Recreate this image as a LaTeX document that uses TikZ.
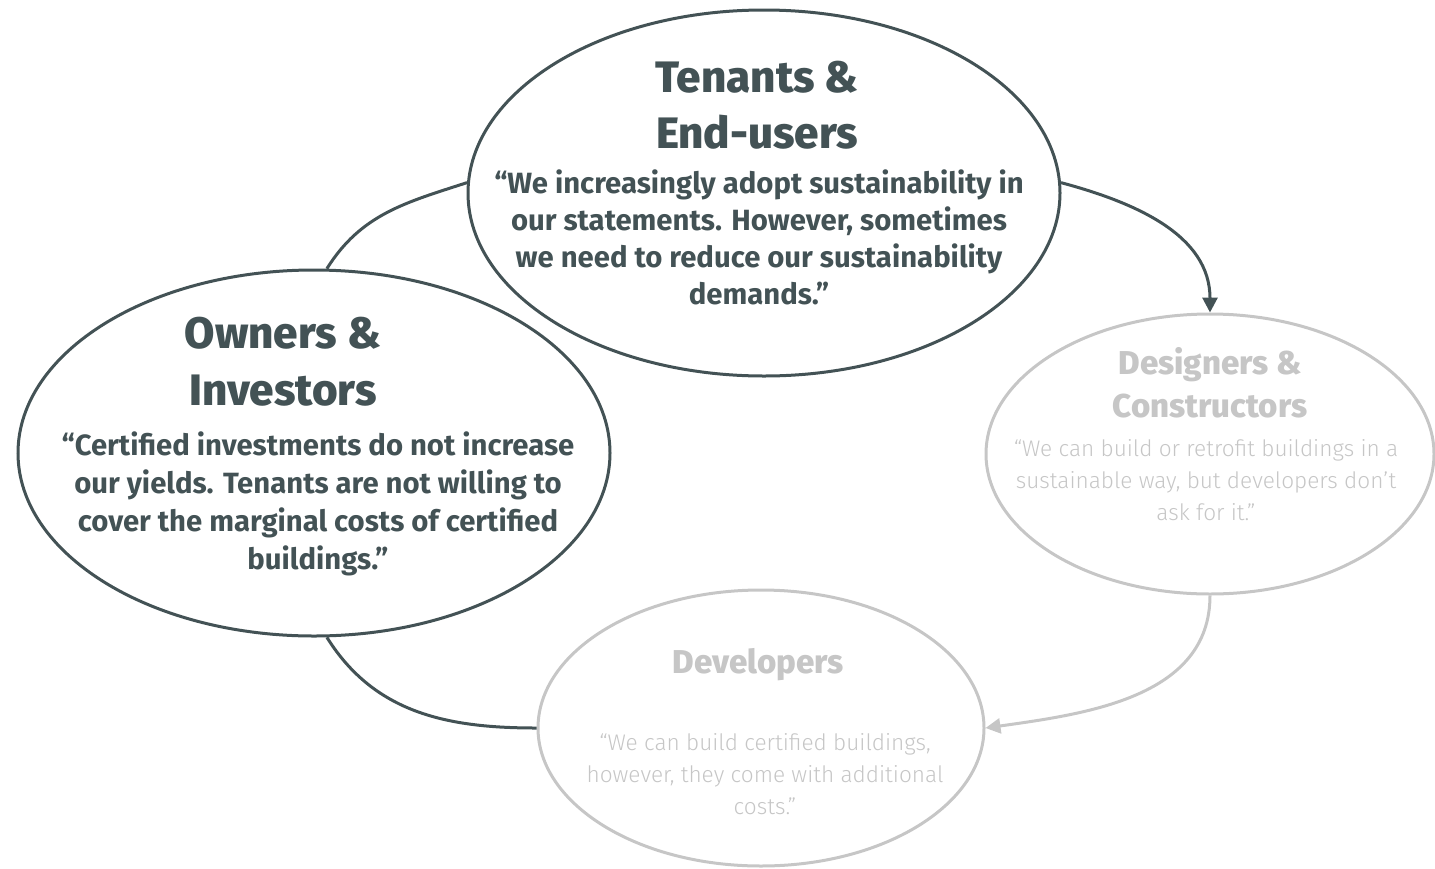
\documentclass[tikz,border=0pt]{standalone}
\usepackage{fontspec}
\setmainfont{Fira Sans}
\newfontfamily\lightfont{Fira Sans Light}
\newfontfamily\heavyfont{Fira Sans ExtraBold}
\usetikzlibrary{shapes.geometric,arrows.meta}
\definecolor{slate}{RGB}{67,82,85}
\definecolor{mist}{RGB}{198,198,198}

\begin{document}
\begin{tikzpicture}[x=1pt,y=-1pt,
  oval/.style={ellipse, line width=3pt, inner sep=0pt},
  darkoval/.style={oval, draw=slate},
  lightoval/.style={oval, draw=mist},
  textline/.style={anchor=base, inner sep=0pt},
  bigtitle/.style={textline, font=\fontsize{44}{44}\selectfont\heavyfont, text=slate},
  darkquote/.style={textline, font=\fontsize{29.3}{29.3}\selectfont\bfseries, text=slate},
  smalltitle/.style={textline, font=\fontsize{33}{33}\selectfont\heavyfont, text=mist},
  lightquote/.style={textline, font=\fontsize{22.6}{22.6}\selectfont\lightfont, text=mist},
  darklink/.style={draw=slate, line width=3pt},
  lightlink/.style={draw=mist, line width=3pt},
  tip/.style={-{Triangle[length=15pt,width=15pt]}},
]
\useasboundingbox (0,0) rectangle (1435,868);

% the four stakeholder ovals
\node[darkoval, minimum width=592pt, minimum height=366pt] (T) at (764,193) {};
\node[darkoval, minimum width=592pt, minimum height=366pt] (O) at (314,453) {};
\node[lightoval, minimum width=448pt, minimum height=280pt] (D) at (1210,454) {};
\node[lightoval, minimum width=446pt, minimum height=276pt] (V) at (761,728) {};

% Tenants & End-users
\node[bigtitle] (t1) at (757,92) {Tenants \&};
\node[bigtitle] (t2) at (757,148) {End-users};
\node[darkquote] (tq1) at (759,193) {“We increasingly adopt sustainability in};
\node[darkquote] (tq2) at (759,230) {our statements. However, sometimes};
\node[darkquote] (tq3) at (759,267) {we need to reduce our sustainability};
\node[darkquote] (tq4) at (759,304) {demands.”};

% Owners & Investors
\node[bigtitle] (o1) at (283,348) {Owners \&};
\node[bigtitle] (o2) at (283,405) {Investors};
\node[darkquote] (oq1) at (318,455) {“Certified investments do not increase};
\node[darkquote] (oq2) at (318,493) {our yields. Tenants are not willing to};
\node[darkquote] (oq3) at (318,531) {cover the marginal costs of certified};
\node[darkquote] (oq4) at (318,569) {buildings.”};

% Designers & Constructors
\node[smalltitle] (d1) at (1210,374) {Designers \&};
\node[smalltitle] (d2) at (1210,417) {Constructors};
\node[lightquote] (dq1) at (1206,456) {“We can build or retrofit buildings in a};
\node[lightquote] (dq2) at (1206,488) {sustainable way, but developers don’t};
\node[lightquote] (dq3) at (1206,520) {ask for it.”};

% Developers
\node[smalltitle] (v1) at (758,673) {Developers};
\node[lightquote] (vq1) at (765,750) {“We can build certified buildings,};
\node[lightquote] (vq2) at (765,782) {however, they come with additional};
\node[lightquote] (vq3) at (765,814) {costs.”};

% connectors of the cycle
\draw[darklink] (T.178) to[out=198, in=58] (O.86);
\draw[darklink, tip] (T.2) to[out=-15, in=90] (D.90);
\draw[lightlink, tip] (D.-90) to[out=-90, in=8] (V.0);
\draw[darklink] (O.-86) to[out=-58, in=180] (V.180);
\end{tikzpicture}
\end{document}
